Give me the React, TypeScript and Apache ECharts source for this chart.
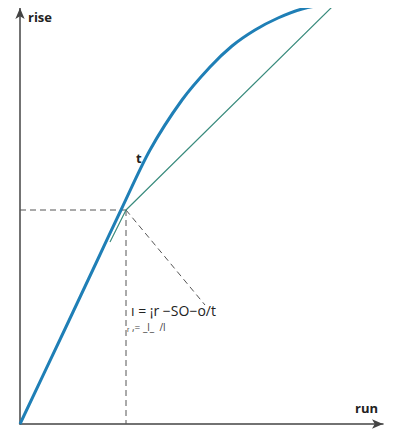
import React, { useEffect, useRef } from "react";
import * as echarts from "echarts";

// data units: x = run, y = rise
const curveX = [0, 45, 77, 101, 130, 162, 190, 212, 235, 258, 282, 307, 333];
const curveY = [0, 95, 163, 214, 274, 324, 357, 378, 394, 406, 415, 419, 419];
const tangentX = [90, 106, 313];
const tangentY = [182, 214, 418];
const pointX = 106;
const pointY = 214;
const diagEnd = [185, 119];
const axisNames = ["run", "rise"];
const formulaLines = ["ı = ¡r −SO−o/t", "ᵣ ,= _l_  /l"];
const tangentLabel = "t";

export default function App() {
  const ref = useRef<HTMLDivElement>(null);
  useEffect(() => {
    const chart = echarts.init(ref.current!, null, { renderer: "svg" });
    const dashed = { color: "#555", width: 1, type: [6, 4] as any };
    chart.setOption({
      animation: false,
      grid: { left: 20, right: 17, top: 8, bottom: 14 },
      xAxis: {
        type: "value", min: 0, max: 363,
        axisLine: { show: true, symbol: ["none", "arrow"], symbolSize: [7, 11], lineStyle: { color: "#444", width: 1.5 } },
        axisTick: { show: false }, axisLabel: { show: false }, splitLine: { show: false },
      },
      yAxis: {
        type: "value", min: 0, max: 416,
        axisLine: { show: true, symbol: ["none", "arrow"], symbolSize: [7, 11], lineStyle: { color: "#444", width: 1.5 } },
        axisTick: { show: false }, axisLabel: { show: false }, splitLine: { show: false },
      },
      series: [
        {
          type: "line", data: [[0, pointY], [pointX, pointY]], symbol: "none",
          lineStyle: dashed, silent: true,
        },
        {
          type: "line", data: [[pointX, pointY], [pointX, 0]], symbol: "none",
          lineStyle: dashed, silent: true,
        },
        {
          type: "line", data: [[pointX, pointY], diagEnd], symbol: "none",
          lineStyle: dashed, silent: true,
        },
        {
          type: "line", data: tangentX.map((x, i) => [x, tangentY[i]]), symbol: "none",
          lineStyle: { color: "#3b8c7e", width: 1.2 }, clip: false,
        },
        {
          type: "line", data: curveX.map((x, i) => [x, curveY[i]]), symbol: "none",
          smooth: 0.3, clip: false,
          lineStyle: { color: "#1f7fb6", width: 3 },
        },
      ],
      graphic: [
        { type: "text", left: 28, top: 10, style: { text: axisNames[1], font: "bold 13px 'Open Sans', sans-serif", fill: "#222" } },
        { type: "text", left: 355, top: 401, style: { text: axisNames[0], font: "bold 13px 'Open Sans', sans-serif", fill: "#222" } },
        { type: "text", left: 136, top: 151, style: { text: tangentLabel, font: "bold 13px 'Open Sans', sans-serif", fill: "#222" } },
        { type: "text", left: 131, top: 303, style: { text: formulaLines[0], font: "14px 'Open Sans', sans-serif", fill: "#222" } },
        { type: "text", left: 127, top: 322, style: { text: formulaLines[1], font: "10px 'Open Sans', sans-serif", fill: "#444" } },
      ],
    });
    return () => chart.dispose();
  }, []);
  return <div ref={ref} style={{ width: 400, height: 438, margin: -8 }} />;
}
